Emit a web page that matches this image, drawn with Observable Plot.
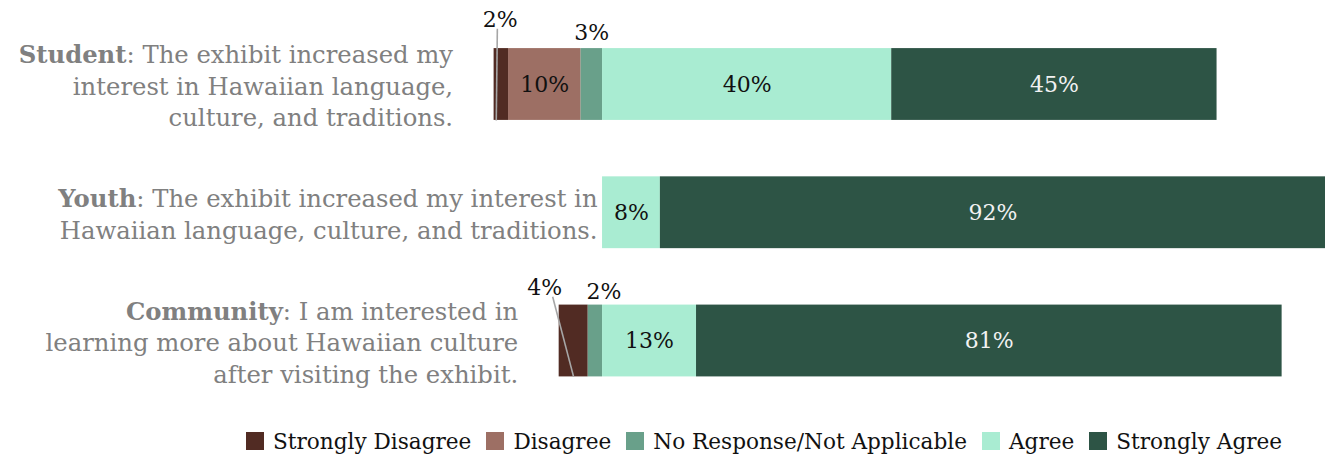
<!DOCTYPE html>
<html>
<head>
<meta charset="utf-8">
<script src="https://cdn.jsdelivr.net/npm/d3@7"></script>
<script src="https://cdn.jsdelivr.net/npm/@observablehq/plot@0.6"></script>
<style>
  html, body { margin: 0; padding: 0; background: #fff; }
  #chart { width: 1330px; font-family: "DejaVu Serif", serif; }
  .legend { display: flex; align-items: center; margin-left: 246px; height: 46px; font-family: "DejaVu Serif", serif; font-size: 21.6px; color: #111; }
  .legend .item { display: flex; align-items: center; margin-right: 15px; }
  .legend .sw { width: 18px; height: 18px; margin-right: 9px; }
</style>
</head>
<body>
<div id="chart"></div>
<script>
// ---- data ----
const questions = ["Student", "Youth", "Community"];
const questionText = [
  "Student: The exhibit increased my\ninterest in Hawaiian language,\nculture, and traditions.",
  "Youth: The exhibit increased my interest in\nHawaiian language, culture, and traditions.",
  "Community: I am interested in\nlearning more about Hawaiian culture\nafter visiting the exhibit."
];
const categories = ["Strongly Disagree", "Disagree", "No Response/Not Applicable", "Agree", "Strongly Agree"];
const colors = ["#512b23", "#9d6f64", "#69a08a", "#a9ecd2", "#2d5445"];
const stronglyDisagree = [2, 0, 4];
const disagree = [10, 0, 0];
const noResponse = [3, 0, 2];
const agree = [40, 8, 13];
const stronglyAgree = [45, 92, 81];

// ---- build segments (diverging: negatives to the left of zero) ----
const values = [stronglyDisagree, disagree, noResponse, agree, stronglyAgree];
const segments = [];
questions.forEach((q, i) => {
  let left = 0;
  [2, 1, 0].forEach(c => {
    const v = values[c][i];
    if (v > 0) segments.push({i, q, c, cat: categories[c], v, x1: left - v, x2: left});
    left -= v;
  });
  let right = 0;
  [3, 4].forEach(c => {
    const v = values[c][i];
    if (v > 0) segments.push({i, q, c, cat: categories[c], v, x1: right, x2: right + v});
    right += v;
  });
});
segments.forEach(d => d.cx = (d.x1 + d.x2) / 2);
const leftTotals = questions.map((q, i) => stronglyDisagree[i] + disagree[i] + noResponse[i]);

const half = 0.28; // bar half-thickness in row units
const inside = segments.filter(d => d.v >= 5);
const small = segments.filter(d => d.v < 5);

// callout placement for small segments (offsets in data units)
const calloutOffsets = {
  "0-0": {dx: -0.15, dy: -0.5, leader: true},
  "0-2": {dx: 0, dy: -0.405, leader: false},
  "2-0": {dx: -4, dy: -0.41, leader: true},
  "2-2": {dx: 1.2, dy: -0.38, leader: false}
};
const callouts = small.map(d => {
  const o = calloutOffsets[d.i + "-" + d.c] || {dx: 0, dy: -0.42, leader: false};
  return {...d, lx: d.cx + o.dx, ly: d.i + o.dy, leader: o.leader};
});
const leaders = callouts.filter(d => d.leader).map(d => ({
  x1: d.lx + (d.i === 0 ? -0.4 : 1.1), y1: d.ly + 0.065,
  x2: d.i === 0 ? d.lx - 0.55 : d.cx, y2: d.i + half
}));

const labels = questions.map((q, i) => ({i, q, text: questionText[i], x: -leftTotals[i], gap: leftTotals[i] > 0 ? -41 : -5}));

const plot = Plot.plot({
  width: 1330,
  height: 418,
  x: {domain: [-15, 100], range: [493.6, 1325], axis: null},
  y: {domain: [0, 2], range: [84, 340.5], axis: null},
  style: {fontFamily: "DejaVu Serif, serif", background: "transparent"},
  marks: [
    Plot.rect(segments, {
      x1: "x1", x2: "x2",
      y1: d => d.i - half, y2: d => d.i + half,
      fill: d => colors[d.c],
      inset: 0
    }),
    Plot.text(inside, {
      x: "cx", y: "i", text: d => d.v + "%",
      fill: d => d.c === 4 ? "#f2f2f2" : "#111",
      fontSize: 22
    }),
    Plot.link(leaders, {x1: "x1", y1: "y1", x2: "x2", y2: "y2", stroke: "#a6a6a6", strokeWidth: 1.6}),
    Plot.text(callouts, {
      x: "lx", y: "ly", text: d => d.v + "%", fill: "#111", fontSize: 22
    }),
    ...labels.map(l => Plot.text([l], {
      x: "x", y: "i", text: "text", textAnchor: "end", lineAnchor: "middle",
      lineHeight: 1.3, fontSize: 24.3, fill: "#808080", dx: l.gap, className: "qlabel"
    }))
  ]
});

// bold the respondent group name at the start of each question label
d3.select(plot).selectAll(".qlabel text").each(function() {
  const t = d3.select(this);
  const first = t.select("tspan").empty() ? t : t.select("tspan");
  const s = first.text();
  const k = s.indexOf(":");
  if (k > 0) {
    first.text("");
    first.append("tspan").attr("font-weight", "bold").text(s.slice(0, k));
    first.append("tspan").text(s.slice(k));
  }
});

document.getElementById("chart").appendChild(plot);

// legend
const legend = d3.select("#chart").append("div").attr("class", "legend");
categories.forEach((c, k) => {
  const it = legend.append("div").attr("class", "item");
  it.append("div").attr("class", "sw").style("background", colors[k]);
  it.append("span").text(c);
});
</script>
</body>
</html>
